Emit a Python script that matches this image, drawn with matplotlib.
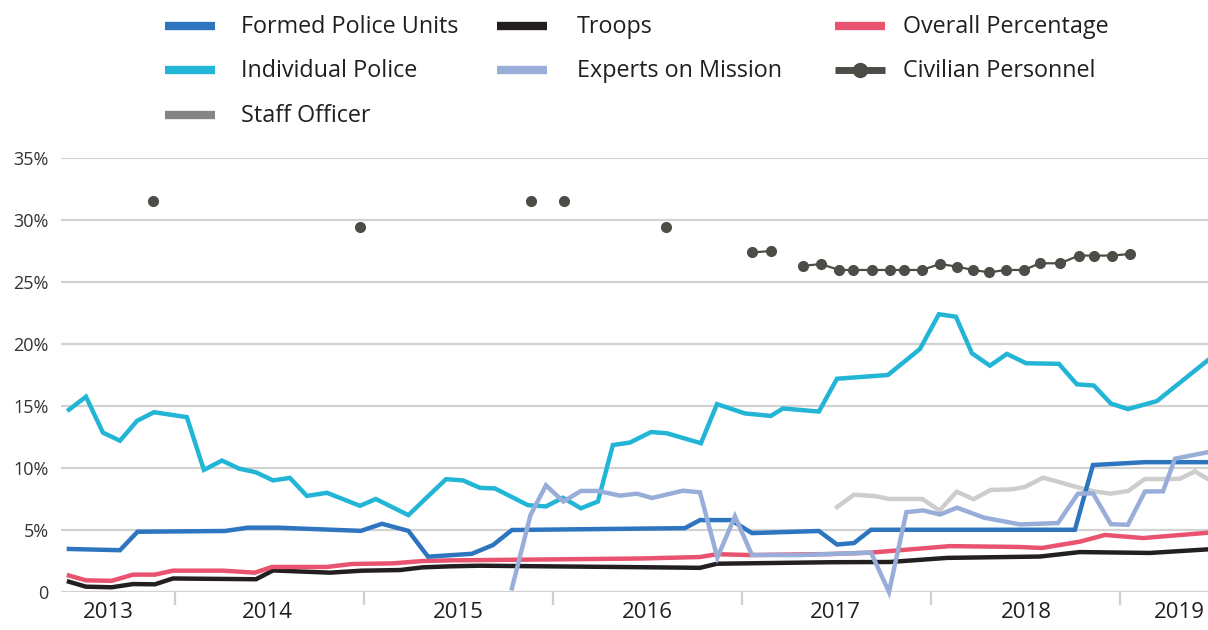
import numpy as np
import matplotlib
matplotlib.use("Agg")
import matplotlib.pyplot as plt
from matplotlib.lines import Line2D

plt.rcParams['font.family'] = ['Open Sans', 'DejaVu Sans']

# ---------------- data (x = decimal year, y = % women) ----------------
ip_x = [2013.439, 2013.529, 2013.619, 2013.709, 2013.799, 2013.889, 2014.063, 2014.153,
        2014.249, 2014.339, 2014.429, 2014.519, 2014.608, 2014.698, 2014.804, 2014.979,
        2015.063, 2015.235, 2015.434, 2015.524, 2015.614, 2015.693, 2015.868, 2015.963,
        2016.053, 2016.148, 2016.238, 2016.317, 2016.407, 2016.519, 2016.603, 2016.783,
        2016.868, 2017.016, 2017.153, 2017.217, 2017.407, 2017.503, 2017.772, 2017.942,
        2018.042, 2018.132, 2018.217, 2018.312, 2018.402, 2018.503, 2018.677, 2018.772,
        2018.862, 2018.952, 2019.042, 2019.196, 2019.466]
ip_y = [14.7, 15.75, 12.85, 12.2, 13.8, 14.5, 14.1, 9.85,
        10.6, 9.95, 9.65, 9.0, 9.2, 7.75, 8.0, 6.95,
        7.5, 6.2, 9.1, 9.0, 8.4, 8.35, 7.0, 6.9,
        7.6, 6.75, 7.3, 11.85, 12.05, 12.9, 12.8, 12.0,
        15.15, 14.4, 14.2, 14.8, 14.55, 17.2, 17.5, 19.6,
        22.4, 22.2, 19.25, 18.25, 19.2, 18.45, 18.4, 16.75,
        16.65, 15.2, 14.75, 15.4, 18.7]

fpu_x = [2013.439, 2013.709, 2013.802, 2014.265, 2014.386, 2014.540, 2014.984, 2015.095,
         2015.235, 2015.339, 2015.571, 2015.683, 2015.783, 2016.698, 2016.778, 2016.942,
         2017.053, 2017.407, 2017.503, 2017.593, 2017.683, 2018.762, 2018.857, 2019.132,
         2019.466]
fpu_y = [3.47, 3.37, 4.86, 4.92, 5.19, 5.19, 4.93, 5.5,
         4.93, 2.85, 3.08, 3.79, 5.0, 5.15, 5.8, 5.8,
         4.75, 4.92, 3.83, 3.95, 5.02, 5.02, 10.24, 10.47,
         10.47]

troops_x = [2013.439, 2013.529, 2013.665, 2013.778, 2013.894, 2013.989, 2014.429, 2014.519,
            2014.820, 2014.989, 2015.190, 2015.312, 2015.455, 2015.614, 2016.460, 2016.778,
            2016.868, 2017.466, 2017.783, 2018.085, 2018.577, 2018.788, 2019.159, 2019.466]
troops_y = [0.83, 0.43, 0.38, 0.64, 0.62, 1.09, 1.03, 1.74,
            1.56, 1.72, 1.77, 1.99, 2.07, 2.12, 2.0, 1.95,
            2.28, 2.4, 2.42, 2.75, 2.86, 3.22, 3.15, 3.44]

overall_x = [2013.439, 2013.529, 2013.665, 2013.778, 2013.894, 2013.989, 2014.254, 2014.423,
             2014.513, 2014.804, 2014.937, 2015.153, 2015.312, 2015.455, 2016.460, 2016.778,
             2016.868, 2017.042, 2017.466, 2017.677, 2018.101, 2018.471, 2018.587, 2018.788,
             2018.921, 2019.122, 2019.466]
overall_y = [1.33, 0.94, 0.9, 1.4, 1.4, 1.72, 1.72, 1.56,
             2.02, 2.02, 2.26, 2.31, 2.5, 2.55, 2.7, 2.82,
             3.05, 2.98, 3.06, 3.17, 3.7, 3.63, 3.55, 4.06,
             4.6, 4.35, 4.78]

eom_x = [2015.783, 2015.881, 2015.963, 2016.055, 2016.148, 2016.238, 2016.354, 2016.444,
         2016.524, 2016.688, 2016.778, 2016.870, 2016.963, 2017.053, 2017.307, 2017.683,
         2017.778, 2017.870, 2017.958, 2018.048, 2018.138, 2018.280, 2018.471, 2018.672,
         2018.778, 2018.857, 2018.952, 2019.042, 2019.132, 2019.228, 2019.291, 2019.466]
eom_y = [0.3, 6.2, 8.6, 7.3, 8.15, 8.15, 7.77, 7.93,
         7.58, 8.17, 8.04, 2.78, 6.1, 2.98, 2.98, 3.18,
         0.0, 6.44, 6.58, 6.25, 6.8, 6.0, 5.45, 5.56,
         7.93, 7.96, 5.47, 5.42, 8.1, 8.12, 10.75, 11.28]

staff_x = [2017.503, 2017.593, 2017.709, 2017.778, 2017.955, 2018.045, 2018.136, 2018.226,
           2018.316, 2018.429, 2018.497, 2018.593, 2018.680, 2018.772, 2018.862, 2018.952,
           2019.044, 2019.132, 2019.228, 2019.317, 2019.397, 2019.466]
staff_y = [6.85, 7.85, 7.72, 7.5, 7.5, 6.57, 8.09, 7.48,
           8.23, 8.28, 8.47, 9.22, 8.86, 8.46, 8.12, 7.93,
           8.15, 9.11, 9.11, 9.13, 9.73, 9.1]

nan = np.nan
civ_x = [2013.884, 2014.4, 2014.979, 2015.4, 2015.886, 2016.0, 2016.061, 2016.3, 2016.598,
         2016.9, 2017.053, 2017.153, 2017.25, 2017.323, 2017.418, 2017.513, 2017.587,
         2017.688, 2017.783, 2017.857, 2017.952, 2018.048, 2018.138, 2018.222, 2018.307,
         2018.397, 2018.492, 2018.577, 2018.683, 2018.783, 2018.862, 2018.958, 2019.053]
civ_y = [31.5, nan, 29.4, nan, 31.5, nan, 31.5, nan, 29.4,
         nan, 27.38, 27.5, nan, 26.3, 26.45, 25.97, 25.97,
         25.97, 25.97, 25.97, 25.97, 26.45, 26.24, 25.97, 25.78,
         25.97, 25.97, 26.51, 26.51, 27.13, 27.13, 27.13, 27.26]

year_ticks = [2014, 2015, 2016, 2017, 2018, 2019]
year_labels = ['2013', '2014', '2015', '2016', '2017', '2018', '2019']
year_label_pos = [2013.645, 2014.49, 2015.497, 2016.497, 2017.497, 2018.503, 2019.317]
y_ticks = [0, 5, 10, 15, 20, 25, 30, 35]
y_labels = ['0', '5%', '10%', '15%', '20%', '25%', '30%', '35%']

# ---------------- colours ----------------
C_FPU = '#2e75bf'
C_IP = '#22b5d6'
C_TR = '#231f20'
C_OV = '#e9536f'
C_EOM = '#98aed8'
C_CIV = '#4d4d48'
C_SO_LINE = '#cdcdcd'
C_SO_LEG = '#858585'

W, H = 1208, 630
fig = plt.figure(figsize=(W / 100, H / 100), dpi=100)
ax = fig.add_axes([61 / W, 1 - 592 / H, 1 - 61 / W, (592 - 158) / H])

lw = 3.2
ax.plot(ip_x, ip_y, color=C_IP, lw=lw, zorder=3, clip_on=False, solid_joinstyle='miter')
ax.plot(staff_x, staff_y, color=C_SO_LINE, lw=lw, zorder=3, clip_on=False, solid_joinstyle='miter')
ax.plot(troops_x, troops_y, color=C_TR, lw=lw, zorder=3, clip_on=False, solid_joinstyle='miter')
ax.plot(overall_x, overall_y, color=C_OV, lw=lw, zorder=4, clip_on=False, solid_joinstyle='miter')
ax.plot(fpu_x, fpu_y, color=C_FPU, lw=lw, zorder=4, clip_on=False, solid_joinstyle='miter')
ax.plot(eom_x, eom_y, color=C_EOM, lw=lw, zorder=5, clip_on=False, solid_joinstyle='miter')
ax.plot(civ_x, civ_y, color=C_CIV, lw=1.6, marker='o', ms=7, zorder=6, clip_on=False)

ax.set_xlim(2013.397, 2019.466)
ax.set_ylim(0, 35)
for s in ax.spines.values():
    s.set_visible(False)
ax.set_yticks(y_ticks)
ax.set_yticklabels(y_labels)
ax.yaxis.grid(True, color='#d2d2d2', lw=1.6, zorder=0)
ax.set_axisbelow(True)
ax.tick_params(axis='y', length=0, pad=9, labelsize=13, labelcolor='#333333')

ax.set_xticks(year_ticks)
ax.set_xticklabels([])
ax.tick_params(axis='x', length=9, width=1.6, color='#cfcfcf', direction='out', pad=0)
for lab, xp in zip(year_labels, year_label_pos):
    ax.text(xp, -1.65, lab, ha='center', va='center', fontsize=16, color='#231f20')

# ---------------- legend (manual) ----------------
def px(x, y):
    return x / W, 1 - y / H

legend_items = [
    ('Formed Police Units', C_FPU, 165, 241, 26, False),
    ('Individual Police', C_IP, 165, 241, 70, False),
    ('Staff Officer', C_SO_LEG, 165, 241, 115, False),
    ('Troops', C_TR, 497, 577, 26, False),
    ('Experts on Mission', C_EOM, 497, 577, 70, False),
    ('Overall Percentage', C_OV, 835, 903, 26, False),
    ('Civilian Personnel', C_CIV, 835, 903, 70, True),
]
for name, col, hx, tx_px, hy, mk in legend_items:
    x0, y0 = px(hx, hy)
    x1, _ = px(hx + 50, hy)
    if mk:
        fig.add_artist(Line2D([x0, x1], [y0, y0], color=col, lw=5, transform=fig.transFigure,
                              solid_capstyle='butt'))
        fig.add_artist(Line2D([(x0 + x1) / 2], [y0], color=col, marker='o', ms=10,
                              transform=fig.transFigure))
    else:
        fig.add_artist(Line2D([x0, x1], [y0, y0], color=col, lw=6, transform=fig.transFigure,
                              solid_capstyle='butt'))
    tx, ty = px(tx_px, hy + 1)
    fig.text(tx, ty, name, ha='left', va='center', fontsize=16.8, color='#231f20')

fig.savefig('out.png', dpi=100)
